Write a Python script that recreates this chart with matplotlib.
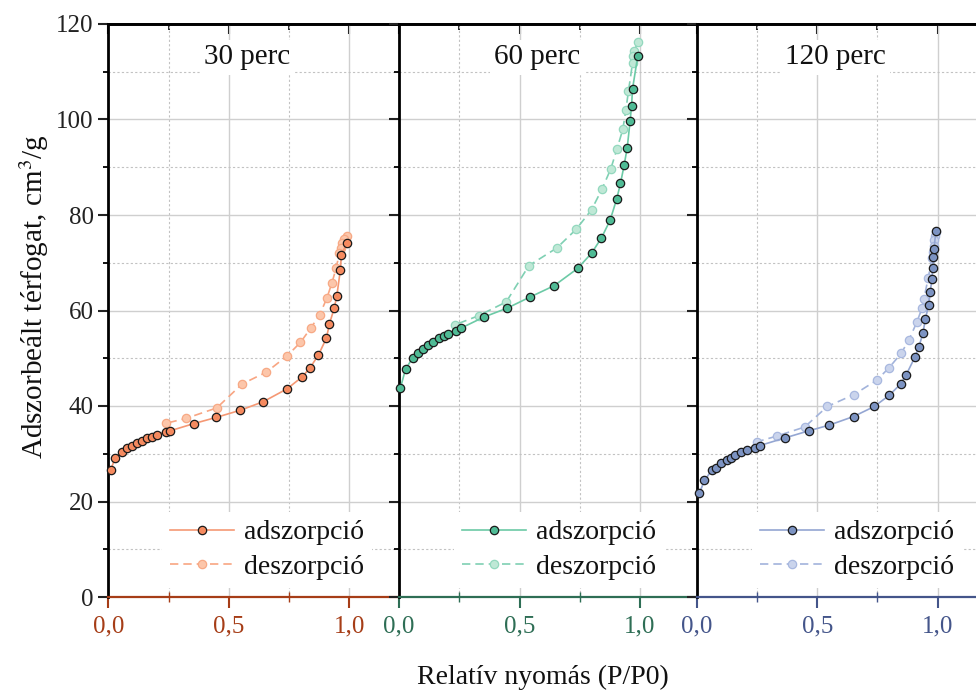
import matplotlib
matplotlib.use("Agg")
import matplotlib.pyplot as plt
from matplotlib.ticker import FixedLocator, FixedFormatter

plt.rcParams['font.family'] = ['Liberation Serif', 'DejaVu Serif']
plt.rcParams['mathtext.fontset'] = 'stix'

# --- isotherm data (relative pressure, adsorbed volume cm3/g) ---
titles = ['30 perc', '60 perc', '120 perc']

ads30_p = [0.010, 0.029, 0.057, 0.078, 0.098, 0.119, 0.140, 0.162, 0.183, 0.202,
           0.238, 0.256, 0.354, 0.447, 0.547, 0.643, 0.742, 0.802, 0.836, 0.872,
           0.905, 0.917, 0.938, 0.948, 0.963, 0.967, 0.990]
ads30_v = [26.6, 29.2, 30.4, 31.1, 31.6, 32.2, 32.7, 33.2, 33.6, 34.0,
           34.6, 34.8, 36.3, 37.6, 39.1, 40.9, 43.6, 46.0, 47.9, 50.7,
           54.2, 57.1, 60.6, 63.0, 68.5, 71.6, 74.2]
des30_p = [0.989, 0.979, 0.971, 0.964, 0.959, 0.945, 0.928, 0.907, 0.877, 0.840,
           0.797, 0.742, 0.656, 0.555, 0.450, 0.322, 0.241]
des30_v = [75.6, 75.0, 74.1, 73.0, 72.0, 68.8, 65.8, 62.6, 59.1, 56.3,
           53.3, 50.5, 47.1, 44.6, 39.6, 37.4, 36.4]

ads60_p = [0.006, 0.027, 0.057, 0.077, 0.099, 0.120, 0.142, 0.164, 0.185, 0.204,
           0.236, 0.257, 0.351, 0.449, 0.543, 0.644, 0.741, 0.799, 0.840, 0.876,
           0.903, 0.919, 0.934, 0.947, 0.959, 0.965, 0.969, 0.991]
ads60_v = [43.8, 47.7, 50.1, 51.1, 52.0, 52.8, 53.5, 54.2, 54.7, 55.1,
           55.8, 56.3, 58.6, 60.5, 62.8, 65.2, 68.8, 72.0, 75.2, 78.9,
           83.3, 86.6, 90.4, 94.1, 99.7, 102.9, 106.4, 113.4]
des60_p = [0.990, 0.977, 0.973, 0.969, 0.952, 0.941, 0.929, 0.905, 0.879, 0.843,
           0.799, 0.735, 0.655, 0.539, 0.445, 0.330, 0.232]
des60_v = [116.2, 114.3, 113.3, 111.8, 105.9, 101.9, 98.0, 93.9, 89.7, 85.5,
           81.1, 77.0, 73.1, 69.4, 61.8, 58.9, 57.0]

ads120_p = [0.011, 0.032, 0.062, 0.079, 0.102, 0.124, 0.144, 0.159, 0.185, 0.207,
            0.242, 0.261, 0.365, 0.465, 0.550, 0.651, 0.737, 0.798, 0.846, 0.869,
            0.906, 0.922, 0.939, 0.949, 0.963, 0.969, 0.976, 0.979, 0.982, 0.985,
            0.992]
ads120_v = [21.7, 24.4, 26.5, 27.1, 28.0, 28.7, 29.2, 29.7, 30.3, 30.8,
            31.3, 31.7, 33.3, 34.8, 36.0, 37.8, 39.9, 42.2, 44.6, 46.5,
            50.3, 52.4, 55.3, 58.3, 61.2, 63.9, 66.6, 69.0, 71.1, 72.9,
            76.6]
des120_p = [0.994, 0.989, 0.986, 0.983, 0.979, 0.976, 0.961, 0.943, 0.935, 0.913,
            0.880, 0.848, 0.798, 0.747, 0.653, 0.542, 0.448, 0.332, 0.250]
des120_v = [76.4, 75.7, 74.8, 73.6, 72.3, 70.9, 66.9, 62.5, 60.5, 57.5,
            53.8, 51.0, 48.0, 45.4, 42.4, 39.9, 35.6, 33.7, 32.5]

x_ticks = [0.0, 0.5, 1.0]
x_ticklabels = ['0,0', '0,5', '1,0']
y_ticks = [0, 20, 40, 60, 80, 100, 120]
y_ticklabels = ['0', '20', '40', '60', '80', '100', '120']

panels = [(ads30_p, ads30_v, des30_p, des30_v),
          (ads60_p, ads60_v, des60_p, des60_v),
          (ads120_p, ads120_v, des120_p, des120_v)]

# colours: marker face, line, desorption face, desorption edge, desorption line, axis
colors = [
    ('#f58a5f', '#f59874', '#fcc6aa', '#f7a985', '#f8a582', '#a63d17'),
    ('#4fbb95', '#6ccaa6', '#bfe8d6', '#93d8be', '#7fd0b3', '#2e6e55'),
    ('#7c93c2', '#94a6d2', '#cad4ec', '#a8b8df', '#a2b3db', '#44558a'),
]

W, H = 976, 690
fig = plt.figure(figsize=(W / 100, H / 100), dpi=100)
px_per_unit = 241.0
y0_px, y1_px = 597, 24
lefts = [108.3, 399.0, 696.7]
xmax = [1.206, 1.235, 1.235]

for i in range(3):
    ads_p, ads_v, des_p, des_v = panels[i]
    face, line, dface, dedge, dline, axcol = colors[i]
    width = xmax[i] * px_per_unit
    ax = fig.add_axes([lefts[i] / W, 1 - y0_px / H, width / W, (y0_px - y1_px) / H])
    ax.set_xlim(0, xmax[i])
    ax.set_ylim(0, 120)
    ax.set_axisbelow(True)

    ax.xaxis.set_major_locator(FixedLocator(x_ticks))
    ax.xaxis.set_major_formatter(FixedFormatter(x_ticklabels))
    ax.xaxis.set_minor_locator(FixedLocator([0.25, 0.75]))
    ax.yaxis.set_major_locator(FixedLocator(y_ticks))
    ax.yaxis.set_minor_locator(FixedLocator([10, 30, 50, 70, 90, 110]))
    if i == 0:
        ax.yaxis.set_major_formatter(FixedFormatter(y_ticklabels))
    else:
        ax.tick_params(axis='y', labelleft=False)

    ax.grid(which='major', color='#cfcfcf', lw=1.0, ls='-')
    ax.grid(which='minor', color='#c2c2c2', lw=0.8, ls=(0, (2, 2)))

    ax.tick_params(axis='y', which='major', direction='out', length=7.5, width=1.5,
                   labelsize=18, colors='#222222', pad=3)
    ax.tick_params(axis='y', which='minor', direction='out', length=3.8, width=1.3)
    ax.tick_params(axis='x', which='major', direction='out', length=8, width=1.5,
                   labelsize=18, colors=axcol, pad=5)
    ax.tick_params(axis='x', which='minor', direction='inout', length=7, width=1.0,
                   colors=axcol)

    top = ax.secondary_xaxis('top')
    top.xaxis.set_major_locator(FixedLocator(x_ticks))
    top.xaxis.set_minor_locator(FixedLocator([0.25, 0.75]))
    top.tick_params(which='major', direction='in', length=7, width=1.5, labeltop=False)
    top.tick_params(which='minor', direction='in', length=4, width=1.2)
    top.spines['top'].set_linewidth(2.0)

    ax.spines['right'].set_visible(False)
    ax.spines['left'].set_linewidth(2.0)
    ax.spines['top'].set_linewidth(2.0)
    ax.spines['bottom'].set_linewidth(1.6)
    ax.spines['bottom'].set_color(axcol)

    ax.plot(ads_p, ads_v, '-o', color=line, lw=1.2, ms=6, mfc=face, mec='#1a1a1a',
            mew=0.9, label='adszorpció', clip_on=False, zorder=4)
    ax.plot(des_p, des_v, 'o', ls=(0, (5, 3)), color=dline, lw=1.2, ms=6, mfc=dface,
            mec=dedge, mew=0.9, label='deszorpció', clip_on=False, zorder=3)

    ax.text(0.575, 113, titles[i], ha='center', va='center', fontsize=21, color='#111111',
            bbox=dict(fc='white', ec='none', pad=3), zorder=2.5)

    leg = ax.legend(loc='lower left', bbox_to_anchor=(0.185, 0.015), fontsize=20,
                    frameon=True, fancybox=False, facecolor='white', edgecolor='none',
                    framealpha=1, handlelength=2.3, handletextpad=0.35, borderpad=0.3,
                    labelspacing=0.33, borderaxespad=0)
    for t in leg.get_texts():
        t.set_color('#111111')

fig.text(34 / W, 1 - 297 / H, 'Adszorbeált térfogat, cm$^3$/g', rotation=90,
         ha='center', va='center', fontsize=21, color='#111111')
fig.text(543 / W, 1 - 684 / H, 'Relatív nyomás (P/P0)', ha='center', va='baseline',
         fontsize=20, color='#111111')

fig.savefig('out.png', dpi=100)
